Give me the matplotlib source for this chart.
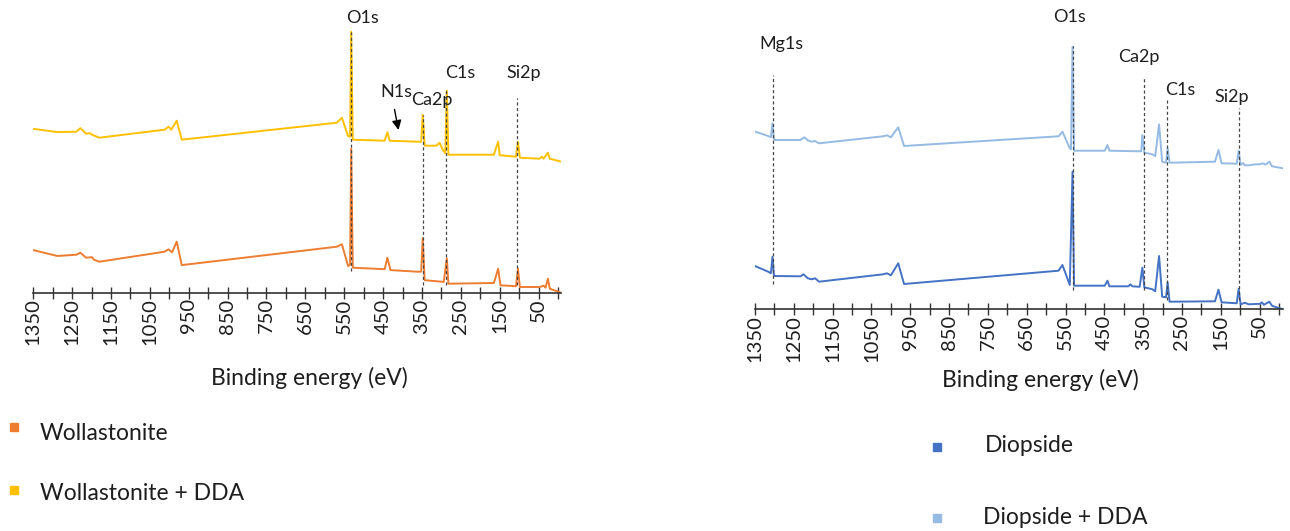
import matplotlib.pyplot as plt
import numpy as np

plt.rcParams['font.family'] = ['Lato', 'DejaVu Sans']

# survey spectra, binding energy (eV) vs intensity (a.u., stacked)
wol_dda_ev = [1352, 1288, 1239, 1229, 1214, 1204, 1199, 1180, 1012, 1002, 995, 981, 968,
              569, 556, 540, 535, 532, 528, 446, 439, 433, 362, 352, 348, 343, 313, 305,
              295, 290, 286, 282, 165, 154, 150, 108, 103, 98, 47, 42, 37, 26, 21, -8]
wol_dda_i = [164, 160.6, 161, 164.6, 159, 159.5, 158, 155, 163, 166, 163, 172, 153,
             170, 175, 156.6, 156, 261, 153, 152, 160.5, 152, 151, 151, 178, 147, 147, 150,
             142, 139.5, 202, 138, 138, 151, 137.5, 136, 151, 135, 134, 136, 134, 140, 134, 131]

wol_ev = [1352, 1288, 1239, 1229, 1214, 1199, 1194, 1180, 1012, 1002, 993, 981, 968,
          569, 556, 540, 535, 532, 528, 446, 439, 431, 362, 352, 348, 343, 294, 286, 282,
          165, 154, 148, 108, 103, 98, 47, 37, 32, 26, 21, -8]
wol_i = [42.8, 36.7, 38, 40, 35, 35.5, 33, 31, 41, 43.4, 40.4, 51, 27.6,
         46, 48.5, 26.6, 28, 144, 25, 23.5, 35, 22.6, 21, 21, 54.5, 12.5, 10.8, 34.3, 9,
         9.7, 24, 7.4, 6.5, 24, 5.7, 5.7, 7, 5, 14, 4, 0]

dio_dda_ev = [1352, 1316, 1309, 1305, 1301, 1233, 1223, 1214, 1204, 1196, 1185, 1020, 1010,
              1000, 981, 966, 568, 558, 539, 536, 532, 528, 449, 442, 437, 359, 355, 352,
              347, 326, 319, 309, 301, 291, 287, 282, 165, 156, 148, 109, 104, 99, 93, 88,
              78, 60, 49, 42, 35, 25, 18, -10]
dio_dda_i = [178, 173.3, 172, 186, 169.3, 169.3, 172, 169, 167.6, 168.3, 166, 173, 174,
             172, 182, 163.3, 173, 177.6, 161, 160, 262.6, 158.6, 158.6, 164.3, 158.6, 158, 158,
             174.3, 156.6, 155, 153, 185, 147.6, 146.6, 161, 146.6, 147.6, 159.3, 146, 145.6,
             158.6, 144.3, 146.3, 144, 144, 145, 145, 146, 144.6, 147.6, 143, 141]

dio_ev = [1352, 1316, 1309, 1305, 1301, 1233, 1225, 1214, 1204, 1195, 1185, 1020, 1010,
          1000, 981, 966, 568, 558, 539, 532, 528, 449, 442, 437, 388, 383, 378, 359, 352,
          347, 326, 319, 309, 301, 291, 287, 282, 165, 156, 148, 109, 104, 99, 88, 78, 49,
          44, 39, 25, 18, -10]
dio_i = [43.6, 37.6, 36, 52.6, 33.3, 33, 35, 31, 30, 31, 27.6, 35, 36,
         34, 46, 25.3, 38.6, 44.3, 24.3, 137.6, 23.6, 23.6, 28.6, 23, 23, 25, 23, 22.5, 41.6,
         22, 20, 18, 53.3, 12.6, 12, 27, 7.6, 8, 19.6, 7, 6, 20.6, 5, 6.5, 5, 5.5,
         7, 4.5, 7.6, 3.5, 0]

# peak markers: (label, line energy, line top, line bottom, text energy, text height)
wol_peaks = [("O1s", 532, 261, 22, 504, 275),
             ("Ca2p", 347, 178, 8, 324, 193),
             ("C1s", 288, 203, 8, 252, 220),
             ("Si2p", 105, 195, 8, 88, 220)]
dio_peaks = [("Mg1s", 1303, 234, 25, 1283, 265),
             ("O1s", 532, 263, 19, 539, 292),
             ("Ca2p", 349, 231, 19, 361, 252),
             ("C1s", 288, 209, 9, 255, 219),
             ("Si2p", 103, 201, 9, 121, 212)]

tick_pos = np.arange(1350, -1, -50)
tick_lab = [str(t) if t % 100 == 50 else "" for t in tick_pos]

c_wol, c_wol_dda = "#ED7D31", "#FFC000"
c_dio, c_dio_dda = "#4472C4", "#95BBE4"
ink = "#1e1e1e"

fig = plt.figure(figsize=(12.9, 5.31), dpi=100)
ax1 = fig.add_axes([33.3 / 1290, 1 - 292.7 / 531, 527.8 / 1290, 292.7 / 531])
ax2 = fig.add_axes([755 / 1290, 1 - 309.3 / 531, 527.9 / 1290, 309.3 / 531])


def style_axis(ax, top, xmin):
    ax.set_xlim(1350, xmin)
    ax.set_ylim(0, top)
    for s in ["left", "right", "top"]:
        ax.spines[s].set_visible(False)
    ax.spines["bottom"].set_color("#333333")
    ax.spines["bottom"].set_linewidth(1.2)
    ax.set_yticks([])
    ax.set_xticks(tick_pos)
    ax.set_xticklabels(tick_lab, rotation=90, fontsize=14.5, color=ink)
    ax.tick_params(axis="x", direction="inout", length=8, width=1, color="#333333", pad=0)
    ax.set_xlabel("Binding energy (eV)", fontsize=16.5, color=ink, va="center")
    ax.patch.set_alpha(0)


def draw_peaks(ax, peaks):
    for name, e, top, bot, te, th in peaks:
        ax.plot([e, e], [bot, top], color="#444444", lw=0.9, ls=(0, (2.5, 2)), zorder=5)
        ax.text(te, th, name, fontsize=13, ha="center", va="center", color=ink)


style_axis(ax1, 292.7, -8)
ax1.plot(wol_ev, wol_i, color=c_wol, lw=1.4)
ax1.plot(wol_dda_ev, wol_dda_i, color=c_wol_dda, lw=1.4)
draw_peaks(ax1, wol_peaks)
ax1.text(417, 201, "N1s", fontsize=13, ha="center", va="center", color=ink)
ax1.annotate("", xy=(409, 160), xytext=(422, 186),
             arrowprops=dict(arrowstyle="-|>", color="black", lw=1, mutation_scale=14))
ax1.xaxis.set_label_coords((309 - 33.3) / 527.8, (292.7 - 378) / 292.7)

style_axis(ax2, 309.3, -10)
ax2.plot(dio_ev, dio_i, color=c_dio, lw=1.4)
ax2.plot(dio_dda_ev, dio_dda_i, color=c_dio_dda, lw=1.4)
draw_peaks(ax2, dio_peaks)
ax2.xaxis.set_label_coords((1040 - 755) / 527.9, (309.3 - 380) / 309.3)

# legend entries laid out in figure pixels
lg = fig.add_axes([0, 0, 1, 1])
lg.set_xlim(0, 1290)
lg.set_ylim(531, 0)
lg.axis("off")
entries = [(14, 427, 40, 433, c_wol, "Wollastonite"),
           (14, 490, 40, 493, c_wol_dda, "Wollastonite + DDA"),
           (937, 447, 985, 445, c_dio, "Diopside"),
           (937, 518, 983, 517, c_dio_dda, "Diopside + DDA")]
for mx, my, tx, ty, col, lab in entries:
    lg.plot([mx], [my], marker="s", ms=6, color=col, ls="none")
    lg.text(tx, ty, lab, fontsize=16.5, ha="left", va="center", color=ink)

fig.savefig("out.png", dpi=100)
